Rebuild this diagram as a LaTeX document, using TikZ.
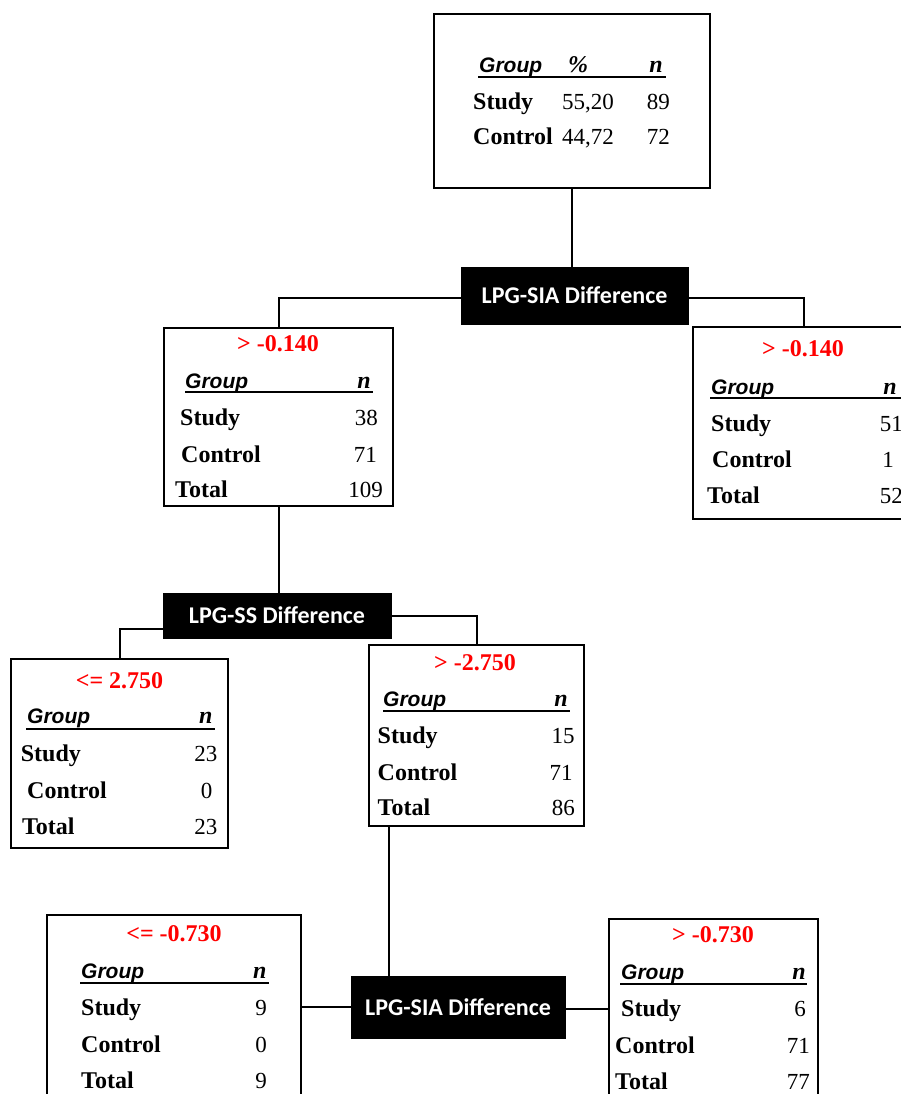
\documentclass[tikz,border=0pt]{standalone}
\usepackage{fontspec}
\setmainfont{Liberation Serif}
\newfontfamily\arialf{Liberation Sans}
\newfontfamily\calib{Carlito}
\begin{document}
\begin{tikzpicture}[x=1pt,y=-1pt,
  box/.style={draw, line width=2pt, inner sep=0pt},
  dec/.style={fill=black, draw=black, text=white, inner sep=0pt, font=\calib\fontsize{24}{24}\selectfont\bfseries},
  conn/.style={line width=2pt},
  uline/.style={line width=2pt},
  lab/.style={font=\fontsize{24}{24}\selectfont\bfseries, anchor=base west, inner sep=0pt},
  num/.style={font=\fontsize{23}{23}\selectfont, anchor=base east, inner sep=0pt},
  grp/.style={font=\arialf\fontsize{21}{21}\selectfont\bfseries\itshape, anchor=base west, inner sep=0pt},
  nn/.style={font=\fontsize{24}{24}\selectfont\bfseries\itshape, anchor=base east, inner sep=0pt},
  cond/.style={font=\fontsize{24}{24}\selectfont\bfseries, text=red, anchor=base, inner sep=0pt}]
\useasboundingbox (0,0) rectangle (901,1094);
\clip (0,0) rectangle (901,1094);
\fill[white] (0,0) rectangle (901,1094);

% boxes
\node[box, minimum width=276pt, minimum height=174pt] (top) at (572,101) {};
\node[dec, minimum width=227pt, minimum height=57pt] (sia1) at (574.5,295.5) {LPG-SIA Difference};
\node[box, minimum width=229pt, minimum height=178pt] (l1) at (278.5,417) {};
\node[box, minimum width=222pt, minimum height=192pt] (r1) at (804,423) {};
\node[dec, minimum width=228pt, minimum height=45pt] (ss) at (277,615.5) {LPG-SS Difference};
\node[box, minimum width=217pt, minimum height=189pt] (l2) at (119.5,753.5) {};
\node[box, minimum width=215pt, minimum height=181pt] (m2) at (476.5,735.5) {};
\node[dec, minimum width=214pt, minimum height=62pt] (sia3) at (458,1007) {LPG-SIA Difference};
\node[box, minimum width=254pt, minimum height=205pt] (bl) at (174,1017.5) {};
\node[box, minimum width=209pt, minimum height=201pt] (br) at (713.5,1019.5) {};

% connectors
\draw[conn] (top.south) -- (top.south |- sia1.north);
\draw[conn] ([yshift=-2pt]sia1.west) -| (l1.north);
\draw[conn] ([yshift=-2pt]sia1.east) -| (r1.north);
\draw[conn] (l1.south) -- (l1.south |- ss.north);
\draw[conn] ([yshift=-13pt]ss.west) -| (l2.north);
\draw[conn] (ss.east) -| (m2.north);
\draw[conn] ([xshift=21pt]m2.south west) -- ([xshift=21pt]m2.south west |- sia3.north);
\draw[conn] (sia3.west) -- (sia3.west -| bl.east);
\draw[conn] ([yshift=-2pt]sia3.east) -- ([yshift=-2pt]sia3.east -| br.west);

% top box
\node[grp] (tg) at (479,73) {Group};
\node[grp, font=\fontsize{24}{24}\selectfont\bfseries\itshape] (tp) at (568,73) {\%};
\node[nn] (tn) at (663,73) {n};
\draw[uline] (478,77) -- (666,77);
\node[lab] (ts) at (473,110) {Study};
\node[num] (ts1) at (614,110) {55,20};
\node[num] (ts2) at (670,110) {89};
\node[lab] (tc) at (473,145) {Control};
\node[num] (tc1) at (614,145) {44,72};
\node[num] (tc2) at (670,145) {72};

% l1
\node[cond] (l1c) at (278,351) {> -0.140};
\node[grp] (l1g) at (185,388) {Group};
\node[nn] (l1n) at (371,388) {n};
\draw[uline] (185,392) -- (373,392);
\node[lab] (l1s) at (180,425) {Study};
\node[num] (l1s1) at (378,425) {38};
\node[lab] (l1k) at (181,462) {Control};
\node[num] (l1k1) at (377,462) {71};
\node[lab] (l1t) at (175,497) {Total};
\node[num] (l1t1) at (383,497) {109};

% r1
\node[cond] (r1c) at (803,356) {> -0.140};
\node[grp] (r1g) at (711,394) {Group};
\node[nn] (r1n) at (897,394) {n};
\draw[uline] (710,398) -- (905,398);
\node[lab] (r1s) at (711,431) {Study};
\node[num] (r1s1) at (903,431) {51};
\node[lab] (r1k) at (712,467) {Control};
\node[num] (r1k1) at (894,467) {1};
\node[lab] (r1t) at (707,503) {Total};
\node[num] (r1t1) at (903,503) {52};

% l2
\node[cond] (l2c) at (119.5,688) {<= 2.750};
\node[grp] (l2g) at (27,723) {Group};
\node[nn] (l2n) at (212.6,723) {n};
\draw[uline] (26,729) -- (214.5,729);
\node[lab] (l2s) at (20.7,761) {Study};
\node[num] (l2s1) at (217.5,761) {23};
\node[lab] (l2k) at (27,798) {Control};
\node[num] (l2k1) at (212.6,798) {0};
\node[lab] (l2t) at (21.8,834) {Total};
\node[num] (l2t1) at (217.5,834) {23};

% m2
\node[cond] (m2c) at (475,670) {> -2.750};
\node[grp] (m2g) at (383,706) {Group};
\node[nn] (m2n) at (568,706) {n};
\draw[uline] (383,711) -- (570,711);
\node[lab] (m2s) at (377.5,743) {Study};
\node[num] (m2s1) at (574.7,743) {15};
\node[lab] (m2k) at (377.5,780) {Control};
\node[num] (m2k1) at (572.8,780) {71};
\node[lab] (m2t) at (377.5,815) {Total};
\node[num] (m2t1) at (575,815) {86};

% bl
\node[cond] (blc) at (174,941) {<= -0.730};
\node[grp] (blg) at (81,978) {Group};
\node[nn] (bln) at (266.7,978) {n};
\draw[uline] (80,983) -- (269,983);
\node[lab] (bls) at (81,1015) {Study};
\node[num] (bls1) at (267,1015) {9};
\node[lab] (blk) at (81,1052) {Control};
\node[num] (blk1) at (267,1052) {0};
\node[lab] (blt) at (81,1088) {Total};
\node[num] (blt1) at (267,1088) {9};

% br
\node[cond] (brc) at (713,942) {> -0.730};
\node[grp] (brg) at (621,979) {Group};
\node[nn] (brn) at (806,979) {n};
\draw[uline] (620,984) -- (807,984);
\node[lab] (brs) at (621,1016.7) {Study};
\node[num] (brs1) at (806,1016.7) {6};
\node[lab] (brk) at (615,1053) {Control};
\node[num] (brk1) at (810,1053) {71};
\node[lab] (brt) at (615,1089) {Total};
\node[num] (brt1) at (810,1089) {77};
\end{tikzpicture}
\end{document}
